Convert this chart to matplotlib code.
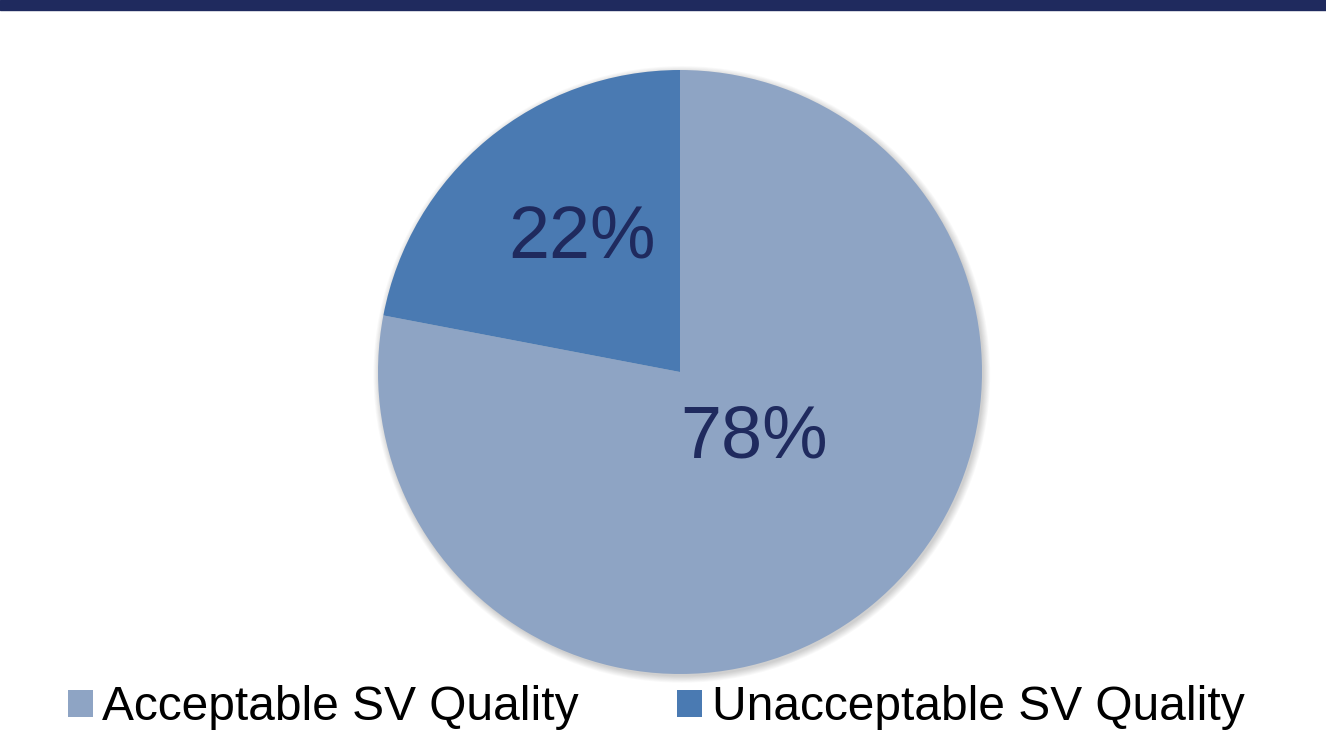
import numpy as np
import matplotlib
matplotlib.use("Agg")
import matplotlib.pyplot as plt
from matplotlib.patches import Patch, Rectangle, Circle

plt.rcParams['font.family'] = ['Liberation Sans', 'DejaVu Sans']

categories = ["Acceptable SV Quality", "Unacceptable SV Quality"]
values = [78, 22]
pct_labels = ["78%", "22%"]

colors = ["#8EA4C4", "#4A7AB2"]
text_color = "#1F2A5E"
label_dist = [0.328, 0.550]
label_angle_shift = [8.7, -3.6]

W, H = 1326, 740
fig = plt.figure(figsize=(W / 100, H / 100), dpi=100)

# top band
fig.patches.append(Rectangle((0, 1 - 10 / H), 1, 10 / H, transform=fig.transFigure,
                             color=text_color, zorder=0))

cx, cy, r = 680, 372, 302
ax = fig.add_axes([(cx - r) / W, (H - cy - r) / H, 2 * r / W, 2 * r / H])

# soft shadow
for i in range(8):
    ax.add_patch(Circle((0.006, -0.008), 1.0 + 0.003 * i, color='black',
                        alpha=0.022, lw=0, zorder=0, clip_on=False))

wedges, _ = ax.pie(values, colors=colors, startangle=90, counterclock=False,
                   radius=1, wedgeprops=dict(linewidth=0))
for w in wedges:
    w.set_zorder(2)

ax.set_xlim(-1, 1)
ax.set_ylim(-1, 1)
ax.set_aspect('equal')
ax.axis('off')

for w, lab, d, s in zip(wedges, pct_labels, label_dist, label_angle_shift):
    ang = np.deg2rad((w.theta1 + w.theta2) / 2 + s)
    ax.text(d * np.cos(ang), d * np.sin(ang), lab, ha='center', va='center',
            fontsize=53, color=text_color, zorder=3)

handles = [Patch(facecolor=c, edgecolor='none') for c in colors]
fig.legend(handles, categories, loc='center', bbox_to_anchor=(656 / W, 1 - 708 / H),
           ncol=2, frameon=False, fontsize=34.5, handlelength=0.52, handleheight=0.52,
           handletextpad=0.2, columnspacing=2.05, borderpad=0)

fig.savefig("out.png", dpi=100)
